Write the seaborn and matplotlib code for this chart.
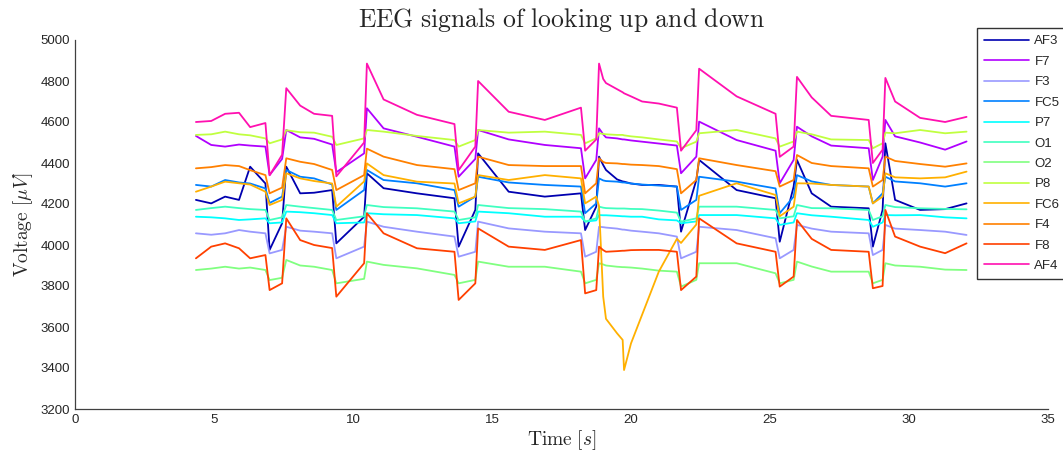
import numpy as np
import pandas as pd
import matplotlib
matplotlib.use("Agg")
import matplotlib.pyplot as plt
import seaborn as sns

# ---- data ----
time_s = [4.35, 4.9, 5.4, 5.9, 6.3, 6.85, 7.0, 7.45, 7.6, 8.1, 8.6, 9.25, 9.4,
          10.4, 10.5, 11.1, 12.3, 13.65, 13.8, 14.4, 14.5, 15.6, 16.9,
          18.2, 18.35, 18.75, 18.85, 19.0, 19.1, 19.5, 19.7, 19.75, 20.0, 20.4, 21.0,
          21.65, 21.8, 22.35, 22.45, 23.8, 25.2, 25.35, 25.85, 25.97, 26.5, 27.2,
          28.55, 28.7, 29.05, 29.15, 29.5, 30.4, 31.3, 32.07]

channels = ["AF3", "F7", "F3", "FC5", "P7", "O1", "O2", "P8", "FC6", "F4", "F8", "AF4"]

AF3 = [4220, 4203, 4236, 4220, 4382, 4300, 3976, 4106, 4382, 4252, 4255, 4268, 4008,
       4138, 4350, 4277, 4252, 4228, 3992, 4171, 4447, 4260, 4236,
       4252, 4073, 4187, 4431, 4390, 4366, 4320, 4310, 4309, 4300, 4293, 4293,
       4285, 4065, 4317, 4415, 4268, 4228, 4016, 4285, 4415, 4252, 4187,
       4179, 3992, 4171, 4496, 4220, 4171, 4175, 4203]
F7 = [4532, 4488, 4480, 4490, 4485, 4480, 4341, 4420, 4561, 4525, 4518, 4490, 4355,
      4447, 4667, 4569, 4528, 4480, 4333, 4420, 4561, 4515, 4488,
      4472, 4325, 4415, 4569, 4540, 4525, 4520, 4515, 4515, 4510, 4504, 4495,
      4485, 4350, 4431, 4602, 4512, 4460, 4301, 4415, 4577, 4530, 4485,
      4472, 4317, 4431, 4610, 4530, 4500, 4465, 4505]
F3 = [4057, 4050, 4057, 4073, 4065, 4057, 3959, 3976, 4089, 4070, 4065, 4057, 3935,
      3992, 4114, 4089, 4065, 4041, 3943, 3967, 4114, 4081, 4065,
      4057, 3943, 3967, 4089, 4087, 4085, 4080, 4075, 4075, 4070, 4065, 4057,
      4041, 3935, 3967, 4089, 4073, 4033, 3935, 3976, 4098, 4080, 4065,
      4057, 3951, 3976, 4098, 4080, 4073, 4065, 4049]
FC5 = [4293, 4285, 4317, 4305, 4300, 4276, 4205, 4236, 4366, 4333, 4325, 4295, 4171,
       4268, 4366, 4317, 4301, 4268, 4187, 4236, 4333, 4305, 4293,
       4285, 4155, 4203, 4325, 4315, 4312, 4309, 4305, 4305, 4300, 4295, 4290,
       4285, 4171, 4220, 4333, 4309, 4276, 4155, 4236, 4341, 4310, 4293,
       4285, 4203, 4252, 4333, 4310, 4301, 4285, 4301]
P7 = [4138, 4135, 4130, 4122, 4125, 4130, 4106, 4110, 4163, 4160, 4155, 4146, 4106,
      4110, 4155, 4150, 4146, 4130, 4106, 4115, 4163, 4155, 4138,
      4138, 4114, 4120, 4146, 4145, 4145, 4142, 4140, 4140, 4138, 4138, 4125,
      4120, 4106, 4115, 4146, 4146, 4130, 4098, 4110, 4155, 4145, 4138,
      4122, 4089, 4110, 4146, 4145, 4146, 4135, 4130]
O1 = [4171, 4180, 4187, 4180, 4175, 4171, 4122, 4135, 4195, 4187, 4180, 4171, 4122,
      4140, 4195, 4185, 4179, 4163, 4122, 4135, 4195, 4180, 4175,
      4163, 4114, 4130, 4187, 4182, 4180, 4178, 4178, 4178, 4176, 4175, 4168,
      4158, 4114, 4130, 4187, 4187, 4171, 4130, 4140, 4195, 4180, 4179,
      4171, 4122, 4140, 4195, 4185, 4179, 4176, 4174]
O2 = [3878, 3885, 3894, 3885, 3890, 3878, 3829, 3840, 3927, 3900, 3894, 3878, 3813,
      3835, 3919, 3903, 3886, 3854, 3813, 3830, 3919, 3894, 3894,
      3870, 3813, 3830, 3911, 3905, 3900, 3894, 3892, 3892, 3890, 3885, 3875,
      3870, 3797, 3830, 3911, 3911, 3862, 3813, 3830, 3919, 3895, 3870,
      3870, 3813, 3830, 3911, 3900, 3894, 3880, 3878]
P8 = [4537, 4540, 4553, 4540, 4535, 4520, 4496, 4515, 4560, 4550, 4548, 4528, 4488,
      4520, 4561, 4553, 4532, 4512, 4480, 4512, 4561, 4548, 4553,
      4537, 4496, 4520, 4545, 4542, 4540, 4537, 4537, 4535, 4530, 4525, 4515,
      4505, 4472, 4504, 4545, 4561, 4520, 4480, 4505, 4553, 4540, 4515,
      4512, 4472, 4496, 4548, 4545, 4561, 4545, 4553]
FC6 = [4260, 4285, 4309, 4301, 4295, 4260, 4195, 4220, 4350, 4325, 4312, 4300, 4187,
       4310, 4398, 4341, 4309, 4300, 4203, 4236, 4341, 4317, 4341,
       4325, 4203, 4236, 4190, 3748, 3640, 3569, 3537, 3390, 3520, 3660, 3870,
       4030, 4010, 4100, 4240, 4301, 4244, 4140, 4187, 4301, 4300, 4293,
       4285, 4203, 4236, 4350, 4330, 4325, 4330, 4358]
F4 = [4374, 4380, 4390, 4385, 4365, 4341, 4252, 4280, 4423, 4406, 4395, 4366, 4268,
      4341, 4470, 4431, 4390, 4370, 4268, 4301, 4431, 4390, 4385,
      4385, 4252, 4301, 4423, 4405, 4400, 4398, 4395, 4395, 4392, 4390, 4385,
      4370, 4252, 4317, 4423, 4390, 4360, 4285, 4317, 4439, 4400, 4385,
      4374, 4285, 4317, 4431, 4410, 4395, 4382, 4398]
F8 = [3935, 3992, 4008, 3984, 3935, 3951, 3780, 3813, 4130, 4024, 4000, 3985, 3748,
      3911, 4155, 4057, 3984, 3967, 3732, 3813, 4081, 3992, 3976,
      4024, 3764, 3780, 3992, 3975, 3967, 3970, 3972, 3972, 3975, 3976, 3976,
      3967, 3780, 3846, 4130, 4008, 3967, 3797, 3846, 4122, 4030, 3976,
      3967, 3789, 3800, 4171, 4041, 3992, 3960, 4008]
AF4 = [4600, 4605, 4640, 4645, 4575, 4595, 4340, 4440, 4765, 4680, 4640, 4630, 4335,
       4500, 4885, 4710, 4635, 4590, 4365, 4480, 4800, 4650, 4610,
       4670, 4460, 4515, 4885, 4810, 4790, 4760, 4745, 4740, 4725, 4700, 4690,
       4670, 4460, 4560, 4860, 4725, 4640, 4430, 4480, 4820, 4720, 4630,
       4610, 4400, 4465, 4815, 4700, 4620, 4600, 4625]

series = {"AF3": AF3, "F7": F7, "F3": F3, "FC5": FC5, "P7": P7, "O1": O1,
          "O2": O2, "P8": P8, "FC6": FC6, "F4": F4, "F8": F8, "AF4": AF4}

colors = {"AF3": "#0000b0", "F7": "#b000ff", "F3": "#9999ff", "FC5": "#0080ff",
          "P7": "#00ffff", "O1": "#40ffc0", "O2": "#80ff80", "P8": "#c0ff40",
          "FC6": "#ffb000", "F4": "#ff8000", "F8": "#ff4000", "AF4": "#ff10b0"}

df = pd.concat([pd.DataFrame({"t": time_s, "v": series[c], "ch": c}) for c in channels],
               ignore_index=True)

# ---- style ----
sns.set_style("white")
plt.rcParams["font.family"] = ["Liberation Sans", "DejaVu Sans"]
plt.rcParams["mathtext.fontset"] = "cm"

fig = plt.figure(figsize=(10.63, 4.57), dpi=100)
ax = fig.add_axes([75 / 1063, 1 - 409 / 457, (1048 - 75) / 1063, (409 - 40) / 457])

sns.lineplot(data=df, x="t", y="v", hue="ch", hue_order=channels, palette=colors,
             estimator=None, sort=False, linewidth=1.3, ax=ax, legend=True)

ax.set_xlim(0, 35)
ax.set_ylim(3200, 5000)
ax.set_xticks(np.arange(0, 36, 5))
ax.set_yticks(np.arange(3200, 5001, 200))
ax.tick_params(direction="in", length=7, width=0.8, colors="#404040",
               labelcolor="#262626", labelsize=9.5)
for s in ["top", "right"]:
    ax.spines[s].set_visible(False)
for s in ["left", "bottom"]:
    ax.spines[s].set_color("#404040")
    ax.spines[s].set_linewidth(0.9)

ax.set_title(r"$\mathrm{EEG\ signals\ of\ looking\ up\ and\ down}$", fontsize=18.5, pad=9)
ax.set_xlabel(r"$\mathrm{Time}\ [s]$", fontsize=14, labelpad=2)
ax.set_ylabel(r"$\mathrm{Voltage}\ [\mu V]$", fontsize=14, labelpad=4)

handles, labels = ax.get_legend_handles_labels()
leg = ax.legend(handles, labels, loc="upper left",
                bbox_to_anchor=(977 / 1063, 1 - 28 / 457), bbox_transform=fig.transFigure,
                frameon=True, fancybox=False, edgecolor="black", fontsize=9.5,
                handlelength=3.4, handletextpad=0.4, labelspacing=0.62,
                borderpad=0.55, borderaxespad=0)
leg.get_frame().set_linewidth(1.0)
for ln in leg.get_lines():
    ln.set_linewidth(1.2)

fig.savefig("out.png", dpi=100)
